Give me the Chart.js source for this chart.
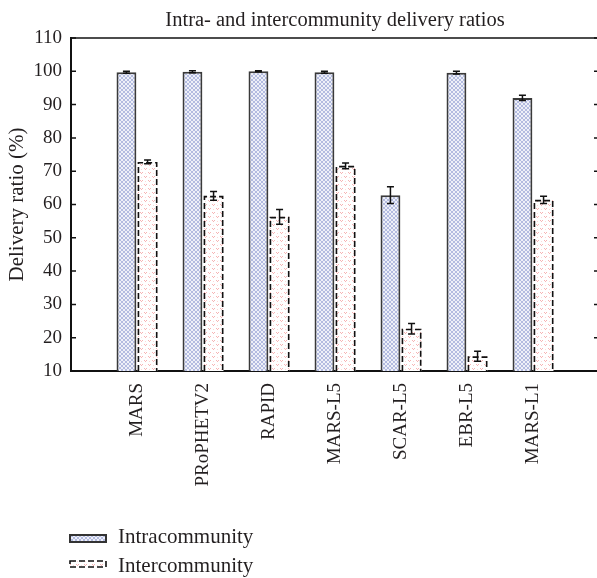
<!DOCTYPE html>
<html><head><meta charset="utf-8">
<script src="https://cdn.jsdelivr.net/npm/chart.js@4.4.1/dist/chart.umd.min.js"></script>
<style>html,body{margin:0;padding:0;background:#fff;overflow:hidden;}#wrap{width:597px;height:578px;overflow:hidden;position:relative}</style>
</head><body><div id="wrap"><canvas id="c" width="601" height="578" style="width:601px;height:578px"></canvas></div>
<script>
const categories = ['MARS','PRoPHETV2','RAPID','MARS-L5','SCAR-L5','EBR-L5','MARS-L1'];
const intraValues = [99.7, 99.9, 100.0, 99.7, 62.8, 99.6, 92.0];
const intraErrors = [0.3, 0.3, 0.15, 0.3, 2.5, 0.4, 0.8];
const interValues = [72.8, 62.6, 56.3, 71.6, 22.7, 14.4, 61.4];
const interErrors = [0.6, 1.3, 2.2, 0.9, 1.6, 1.5, 1.1];
const yTickValues = [10,20,30,40,50,60,70,80,90,100,110];
const seriesNames = ['Intracommunity','Intercommunity'];
const titleText = 'Intra- and intercommunity delivery ratios';
const yTitleText = 'Delivery ratio (%)';

const FONT = "'Liberation Serif','Times New Roman',serif";
const TXT = '#231f20';

function makePattern(kind){
  const c=document.createElement('canvas');
  const x=c.getContext('2d');
  if(kind==='intra'){
    c.width=4;c.height=4;
    x.fillStyle='#eef0f8';x.fillRect(0,0,4,4);
    x.fillStyle='#b3bbe0';
    for(let i=0;i<4;i++){x.fillRect(i,i,1,1);x.fillRect(3-i,i,1,1);}
  } else {
    c.width=8;c.height=8;
    x.fillStyle='#ffffff';x.fillRect(0,0,8,8);
    x.fillStyle='#f6b4b4';
    x.fillRect(0,0,1,1);x.fillRect(2,0,1,1);x.fillRect(1,1,1,1);
    x.fillRect(4,4,1,1);x.fillRect(6,4,1,1);x.fillRect(5,5,1,1);
    x.fillStyle='#fbdada';
    x.fillRect(1,5,1,1);x.fillRect(5,1,1,1);
  }
  return document.getElementById('c').getContext('2d').createPattern(c,'repeat');
}
const intraPat = makePattern('intra');
const interPat = makePattern('inter');

const labels = ['', ...categories, ''];
const pad = a => [null, ...a, null];
const errs = [pad(intraErrors), pad(interErrors)];

const decor = {
  id:'decor',
  afterDatasetsDraw(chart){
    const ctx=chart.ctx, ys=chart.scales.y, a=chart.chartArea;
    ctx.save();
    ctx.beginPath();ctx.rect(a.left,a.top,a.right-a.left,a.bottom-a.top);ctx.clip();
    const m1=chart.getDatasetMeta(1);
    ctx.setLineDash([6,3]);ctx.lineWidth=1.6;ctx.strokeStyle='#111';
    m1.data.forEach((el,i)=>{
      if(chart.data.datasets[1].data[i]==null) return;
      const p=el.getProps(['x','y','width'],true);
      const l=p.x-p.width/2+0.8, r=p.x+p.width/2-0.8;
      ctx.beginPath();ctx.moveTo(l,a.bottom);ctx.lineTo(l,p.y+0.8);ctx.lineTo(r,p.y+0.8);ctx.lineTo(r,a.bottom);ctx.stroke();
    });
    ctx.setLineDash([]);
    ctx.lineWidth=1.5;ctx.strokeStyle='#111';
    [0,1].forEach(d=>{
      const meta=chart.getDatasetMeta(d);
      meta.data.forEach((el,i)=>{
        const v=chart.data.datasets[d].data[i];
        if(v==null) return;
        const e=errs[d][i];
        const x=el.getProps(['x'],true).x;
        const t=ys.getPixelForValue(v+e), b=ys.getPixelForValue(v-e);
        ctx.beginPath();
        ctx.moveTo(x,t);ctx.lineTo(x,b);
        ctx.moveTo(x-3.5,t);ctx.lineTo(x+3.5,t);
        ctx.moveTo(x-3.5,b);ctx.lineTo(x+3.5,b);
        ctx.stroke();
      });
    });
    ctx.restore();
  },
  afterDraw(chart){
    const ctx=chart.ctx, ys=chart.scales.y, a=chart.chartArea;
    ctx.save();
    ctx.strokeStyle='#111';ctx.lineWidth=1.5;
    ctx.beginPath();ctx.moveTo(a.left,a.top);ctx.lineTo(a.right,a.top);ctx.stroke();
    ctx.lineWidth=1.5;
    yTickValues.forEach(v=>{
      const y=ys.getPixelForValue(v);
      ctx.beginPath();ctx.moveTo(a.left,y);ctx.lineTo(a.left+5,y);
      ctx.moveTo(a.right-5,y);ctx.lineTo(a.right,y);ctx.stroke();
    });
    ctx.fillStyle=TXT;ctx.font='20.5px '+FONT;ctx.textAlign='center';ctx.textBaseline='alphabetic';
    ctx.fillText(titleText,(a.left+a.right)/2,26);
    const lx=70, lw=36;
    ctx.fillStyle=intraPat;ctx.fillRect(lx,535,lw,7);
    ctx.strokeStyle='#333';ctx.lineWidth=2;ctx.strokeRect(lx,535,lw,7);
    ctx.fillStyle=interPat;ctx.fillRect(lx,561,lw,6);
    ctx.strokeStyle='#111';ctx.lineWidth=1.6;ctx.setLineDash([6,3]);
    ctx.strokeRect(lx,561,lw,6);ctx.setLineDash([]);
    ctx.fillStyle=TXT;ctx.font='21px '+FONT;ctx.textAlign='left';ctx.textBaseline='alphabetic';
    ctx.fillText(seriesNames[0],118,543);
    ctx.fillText(seriesNames[1],118,572);
    ctx.restore();
  }
};

new Chart(document.getElementById('c'),{
  type:'bar',
  data:{
    labels,
    datasets:[
      {label:seriesNames[0],data:pad(intraValues),backgroundColor:intraPat,borderColor:'#3a3a3a',borderWidth:2,borderSkipped:'start',categoryPercentage:0.64,barPercentage:0.94},
      {label:seriesNames[1],data:pad(interValues),backgroundColor:interPat,borderWidth:0,categoryPercentage:0.64,barPercentage:0.94}
    ]
  },
  options:{
    responsive:false,animation:false,devicePixelRatio:1,
    layout:{padding:{top:38,right:2,left:0,bottom:0}},
    plugins:{legend:{display:false},title:{display:false},tooltip:{enabled:false}},
    scales:{
      x:{
        offset:false,
        grid:{display:false,drawTicks:false},
        border:{display:true,color:'#111',width:2},
        ticks:{autoSkip:false,maxRotation:90,minRotation:90,padding:12,color:TXT,font:{family:FONT,size:19}},
        afterFit(s){s.height=207;s.paddingLeft=0;s.paddingRight=0;}
      },
      y:{
        min:10,max:110,
        grid:{display:false,drawTicks:false},
        border:{display:true,color:'#111',width:2},
        ticks:{stepSize:10,padding:9,color:TXT,font:{family:FONT,size:19}},
        title:{display:true,text:yTitleText,color:TXT,font:{family:FONT,size:21},padding:{top:5,bottom:0}},
        afterFit(s){s.width=71;s.paddingTop=0;s.paddingBottom=0;}
      }
    }
  },
  plugins:[decor]
});
</script></body></html>
